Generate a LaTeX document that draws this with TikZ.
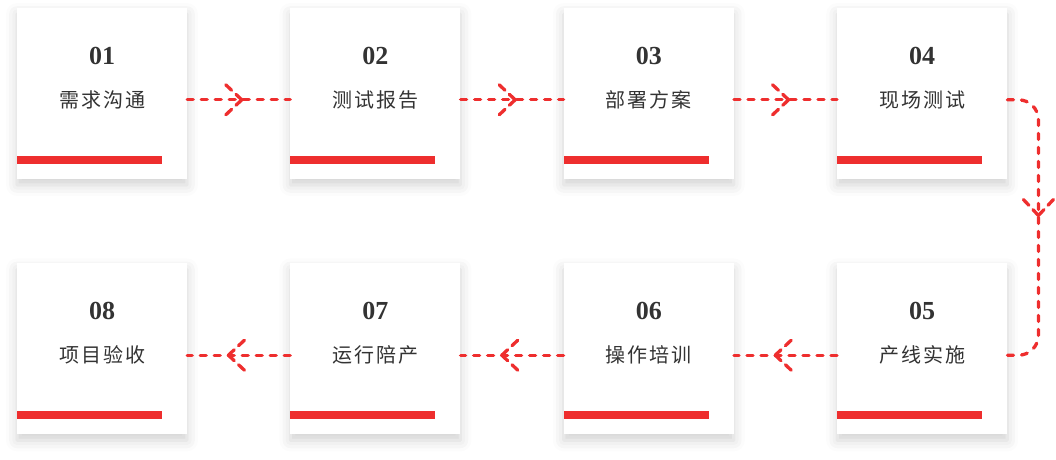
\documentclass[tikz,border=0pt]{standalone}
\usepackage{fontspec}
\newfontfamily\cjkfont{Noto Sans CJK SC}[LetterSpace=10]
\newfontfamily\numfont{Liberation Serif}
\usetikzlibrary{positioning,decorations.markings,shadows.blur}
\definecolor{accent}{RGB}{238,46,46}
\definecolor{ink}{RGB}{51,51,51}

\begin{document}
\begin{tikzpicture}[
  x=1pt, y=-1pt,
  node distance=84pt and 103pt,
  card/.style={
    fill=white,
    minimum width=170pt,
    minimum height=171pt,
    inner sep=0pt,
    blur shadow={shadow xshift=0pt, shadow yshift=-6pt,
      shadow blur radius=11pt, shadow opacity=18}
  },
  num/.style={font=\numfont\bfseries\fontsize{26}{30}\selectfont, text=ink, inner sep=0pt},
  stepname/.style={font=\cjkfont\fontsize{20}{24}\selectfont, text=ink, inner sep=0pt},
  bar/.style={fill=accent, minimum width=145pt, minimum height=8pt, inner sep=0pt, anchor=south west},
  dashes/.style={draw=accent, line width=3.3pt, line cap=round, dash pattern=on 6pt off 8pt},
  flow/.style={
    dashes,
    postaction={decorate},
    decoration={markings, mark=at position #1 with {
      \draw[dashes, dash pattern=on 8pt off 6pt] (0pt,0pt) -- (-16pt,15pt);
      \draw[dashes, dash pattern=on 8pt off 6pt] (0pt,0pt) -- (-16pt,-15pt);}}
  },
  flow/.default=0.53
]
\useasboundingbox (0,0) rectangle (1056,459);

% upper row
\node[card] (c1) at (102,93.5) {};
\node[card, right=of c1] (c2) {};
\node[card, right=of c2] (c3) {};
\node[card, right=of c3] (c4) {};
% lower row
\node[card, below=of c4] (c5) {};
\node[card, left=of c5] (c6) {};
\node[card, left=of c6] (c7) {};
\node[card, left=of c7] (c8) {};

\node[num] (n1) at ([yshift=-48pt]c1.north) {01};
\node[stepname] (t1) at ([yshift=-92pt]c1.north) {需求沟通};
\node[bar] (b1) at ([yshift=15pt]c1.south west) {};

\node[num] (n2) at ([yshift=-48pt]c2.north) {02};
\node[stepname] (t2) at ([yshift=-92pt]c2.north) {测试报告};
\node[bar] (b2) at ([yshift=15pt]c2.south west) {};

\node[num] (n3) at ([yshift=-48pt]c3.north) {03};
\node[stepname] (t3) at ([yshift=-92pt]c3.north) {部署方案};
\node[bar] (b3) at ([yshift=15pt]c3.south west) {};

\node[num] (n4) at ([yshift=-48pt]c4.north) {04};
\node[stepname] (t4) at ([yshift=-92pt]c4.north) {现场测试};
\node[bar] (b4) at ([yshift=15pt]c4.south west) {};

\node[num] (n5) at ([yshift=-48pt]c5.north) {05};
\node[stepname] (t5) at ([yshift=-92pt]c5.north) {产线实施};
\node[bar] (b5) at ([yshift=15pt]c5.south west) {};

\node[num] (n6) at ([yshift=-48pt]c6.north) {06};
\node[stepname] (t6) at ([yshift=-92pt]c6.north) {操作培训};
\node[bar] (b6) at ([yshift=15pt]c6.south west) {};

\node[num] (n7) at ([yshift=-48pt]c7.north) {07};
\node[stepname] (t7) at ([yshift=-92pt]c7.north) {运行陪产};
\node[bar] (b7) at ([yshift=15pt]c7.south west) {};

\node[num] (n8) at ([yshift=-48pt]c8.north) {08};
\node[stepname] (t8) at ([yshift=-92pt]c8.north) {项目验收};
\node[bar] (b8) at ([yshift=15pt]c8.south west) {};

\draw[flow] (t1 -| c1.east) -- (t2 -| c2.west);
\draw[flow] (t2 -| c2.east) -- (t3 -| c3.west);
\draw[flow] (t3 -| c3.east) -- (t4 -| c4.west);
\draw[flow=0.46, rounded corners=20pt] (t4 -| c4.east) -- ++(31pt,0pt) |- (t5 -| c5.east);
\draw[flow=0.6] (t5 -| c5.west) -- (t6 -| c6.east);
\draw[flow=0.6] (t6 -| c6.west) -- (t7 -| c7.east);
\draw[flow=0.6] (t7 -| c7.west) -- (t8 -| c8.east);

\end{tikzpicture}
\end{document}
